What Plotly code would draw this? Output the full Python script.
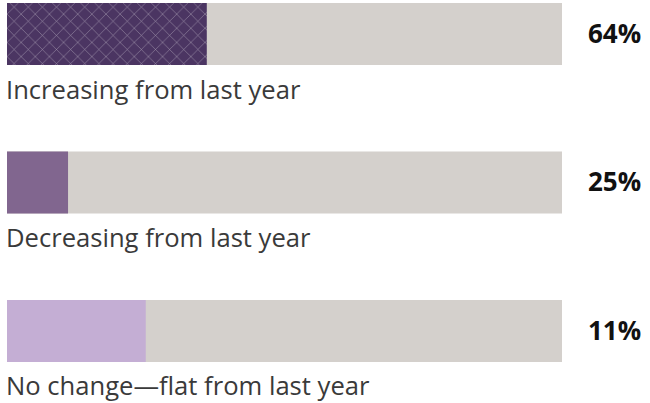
import plotly.graph_objects as go

categories = ["Increasing from last year", "Decreasing from last year", "No change\u2014flat from last year"]
fill_values = [36, 11, 25]          # filled portion of each bar as drawn
track_values = [100, 100, 100]      # full grey track
pct_labels = ["64%", "25%", "11%"]
fill_colors = ["#4b3562", "#81668f", "#c4aed4"]
track_color = "#d4d0cc"

fig = go.Figure()
fig.add_trace(go.Bar(
    y=categories, x=track_values, orientation="h",
    marker=dict(color=track_color, line=dict(width=0)),
    width=0.4175, hoverinfo="skip", showlegend=False,
))
fig.add_trace(go.Bar(
    y=categories, x=fill_values, orientation="h",
    marker=dict(
        color=fill_colors, line=dict(width=0),
        pattern=dict(shape=["x", "", ""], fgcolor="#6a5681", size=10, solidity=0.1),
    ),
    width=0.4175, hoverinfo="skip", showlegend=False,
))

for cat, pct in zip(categories, pct_labels):
    fig.add_annotation(
        x=0, y=cat, xref="x", yref="y", text=cat, showarrow=False,
        xanchor="left", yanchor="middle", yshift=-55, xshift=-3,
        font=dict(family="Open Sans", size=25.6, color="#3a3a3a"),
    )
    fig.add_annotation(
        x=1, y=cat, xref="paper", yref="y", text=pct, showarrow=False,
        xanchor="left", yanchor="middle", xshift=24, yshift=1,
        font=dict(family="Open Sans", size=26, color="#111111", weight="bold"),
    )

fig.update_layout(
    width=650, height=403, barmode="overlay",
    margin=dict(l=7, r=88, t=0, b=0),
    paper_bgcolor="white", plot_bgcolor="white",
    xaxis=dict(range=[0, 100], visible=False, fixedrange=True),
    yaxis=dict(categoryorder="array", categoryarray=categories,
               range=[2.485, -0.229], visible=False, fixedrange=True),
)
fig.write_html("out.html", config={"displayModeBar": False},
               post_script="document.body.style.margin='0';")
